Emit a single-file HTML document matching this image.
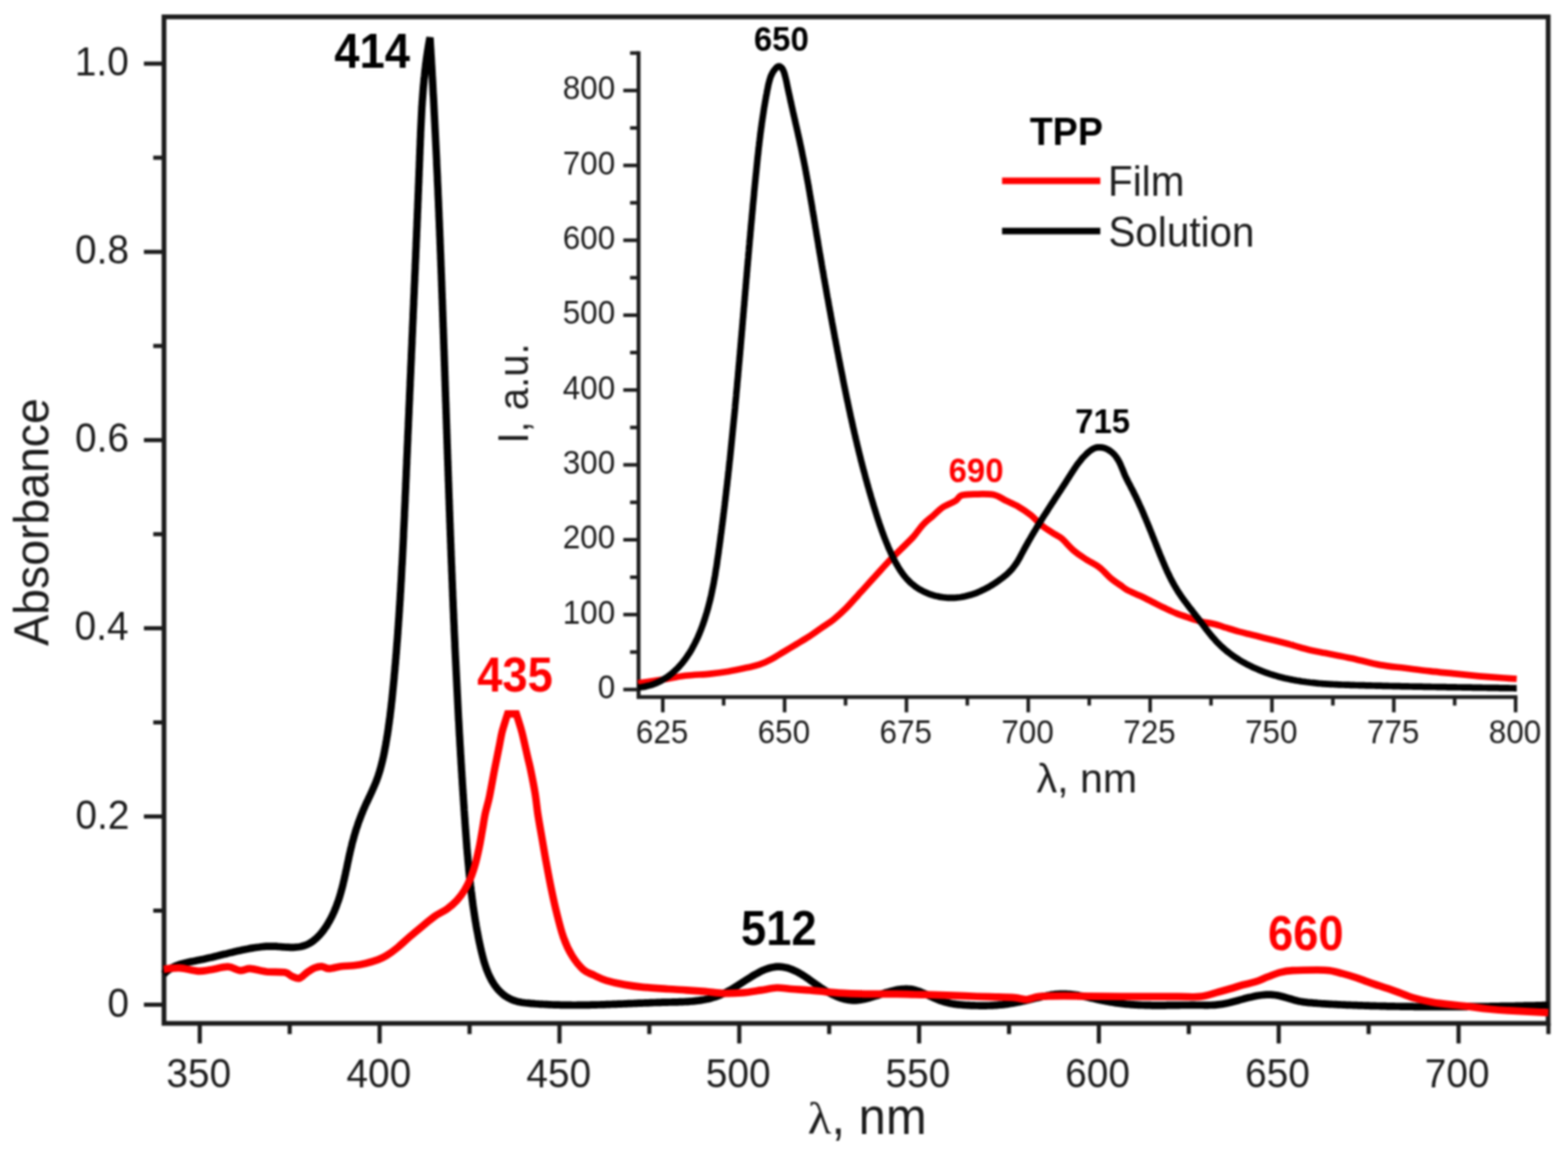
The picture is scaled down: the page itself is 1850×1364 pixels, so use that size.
<!DOCTYPE html>
<html lang="en"><head><meta charset="utf-8"><title>TPP absorbance and emission spectra</title>
<style>
html,body{margin:0;padding:0;background:#fff;}
body{width:1850px;height:1364px;overflow:hidden;}
svg{display:block;filter:blur(0.8px);}
text{font-family:"Liberation Sans",sans-serif;}
.b{font-weight:bold;}
.t{fill:#1c1c1c;}
.r{fill:#ff0000;}
.k{fill:#000000;}
.sym{font-family:"Liberation Serif",serif;}
</style></head><body>
<svg xmlns="http://www.w3.org/2000/svg" width="1850" height="1364" viewBox="0 0 1850 1364">
<rect x="0" y="0" width="1850" height="1364" fill="#fff"/>
<g stroke="#1c1c1c" stroke-width="5.6" fill="none" stroke-linecap="butt">
<rect x="193.5" y="19.9" width="1633.1" height="1187.6"/>
<g stroke-width="4.9">
<line x1="169.8" y1="1185.5" x2="193.5" y2="1185.5"/>
<line x1="180.8" y1="1074.5" x2="193.5" y2="1074.5"/>
<line x1="169.8" y1="963.4" x2="193.5" y2="963.4"/>
<line x1="180.8" y1="852.4" x2="193.5" y2="852.4"/>
<line x1="169.8" y1="741.3" x2="193.5" y2="741.3"/>
<line x1="180.8" y1="630.3" x2="193.5" y2="630.3"/>
<line x1="169.8" y1="519.3" x2="193.5" y2="519.3"/>
<line x1="180.8" y1="408.2" x2="193.5" y2="408.2"/>
<line x1="169.8" y1="297.2" x2="193.5" y2="297.2"/>
<line x1="180.8" y1="186.1" x2="193.5" y2="186.1"/>
<line x1="169.8" y1="75.1" x2="193.5" y2="75.1"/>
<line x1="235.7" y1="1207.5" x2="235.7" y2="1231.2"/>
<line x1="341.8" y1="1207.5" x2="341.8" y2="1220.2"/>
<line x1="447.9" y1="1207.5" x2="447.9" y2="1231.2"/>
<line x1="554.0" y1="1207.5" x2="554.0" y2="1220.2"/>
<line x1="660.1" y1="1207.5" x2="660.1" y2="1231.2"/>
<line x1="766.1" y1="1207.5" x2="766.1" y2="1220.2"/>
<line x1="872.2" y1="1207.5" x2="872.2" y2="1231.2"/>
<line x1="978.3" y1="1207.5" x2="978.3" y2="1220.2"/>
<line x1="1084.4" y1="1207.5" x2="1084.4" y2="1231.2"/>
<line x1="1190.5" y1="1207.5" x2="1190.5" y2="1220.2"/>
<line x1="1296.5" y1="1207.5" x2="1296.5" y2="1231.2"/>
<line x1="1402.6" y1="1207.5" x2="1402.6" y2="1220.2"/>
<line x1="1508.7" y1="1207.5" x2="1508.7" y2="1231.2"/>
<line x1="1614.8" y1="1207.5" x2="1614.8" y2="1220.2"/>
<line x1="1720.9" y1="1207.5" x2="1720.9" y2="1231.2"/>
<line x1="1826.9" y1="1207.5" x2="1826.9" y2="1220.2"/>
</g></g>
<text class="t" font-size="48" transform="matrix(0.9550 0 0 1.0000 88.23 89.20)">1.0</text>
<text class="t" font-size="48" transform="matrix(0.9550 0 0 1.0000 88.46 311.28)">0.8</text>
<text class="t" font-size="48" transform="matrix(0.9550 0 0 1.0000 88.46 533.36)">0.6</text>
<text class="t" font-size="48" transform="matrix(0.9550 0 0 1.0000 87.99 755.44)">0.4</text>
<text class="t" font-size="48" transform="matrix(0.9550 0 0 1.0000 88.94 977.52)">0.2</text>
<text class="t" font-size="48" transform="matrix(0.9550 0 0 1.0000 126.66 1199.60)">0</text>
<text class="t" font-size="48" transform="matrix(0.9550 0 0 1.0000 196.33 1282.70)">350</text>
<text class="t" font-size="48" transform="matrix(0.9550 0 0 1.0000 408.85 1282.70)">400</text>
<text class="t" font-size="48" transform="matrix(0.9550 0 0 1.0000 621.01 1282.70)">450</text>
<text class="t" font-size="48" transform="matrix(0.9550 0 0 1.0000 832.69 1282.70)">500</text>
<text class="t" font-size="48" transform="matrix(0.9550 0 0 1.0000 1044.85 1282.70)">550</text>
<text class="t" font-size="48" transform="matrix(0.9550 0 0 1.0000 1256.77 1282.70)">600</text>
<text class="t" font-size="48" transform="matrix(0.9550 0 0 1.0000 1468.93 1282.70)">650</text>
<text class="t" font-size="48" transform="matrix(0.9550 0 0 1.0000 1681.09 1282.70)">700</text>
<text class="t" font-size="57" transform="matrix(1.0058 0 0 0.9125 952.99 1337.30)"><tspan class="sym">λ</tspan></text>
<text class="t" font-size="60.5" transform="matrix(0.9550 0 0 1.0000 980.96 1337.67)">, nm</text>
<text class="t" font-size="57" transform="matrix(0 -0.9605 1.0204 0 57.09 761.94)">Absorbance</text>
<g stroke="#1c1c1c" stroke-width="4.6" fill="none" stroke-linecap="butt">
<path d="M753.4 60.5 V822.5 H1790.3"/>
<g stroke-width="4.2">
<line x1="735.4" y1="813.6" x2="753.4" y2="813.6"/>
<line x1="743.4" y1="769.4" x2="753.4" y2="769.4"/>
<line x1="735.4" y1="725.2" x2="753.4" y2="725.2"/>
<line x1="743.4" y1="681.1" x2="753.4" y2="681.1"/>
<line x1="735.4" y1="636.9" x2="753.4" y2="636.9"/>
<line x1="743.4" y1="592.7" x2="753.4" y2="592.7"/>
<line x1="735.4" y1="548.5" x2="753.4" y2="548.5"/>
<line x1="743.4" y1="504.4" x2="753.4" y2="504.4"/>
<line x1="735.4" y1="460.2" x2="753.4" y2="460.2"/>
<line x1="743.4" y1="416.0" x2="753.4" y2="416.0"/>
<line x1="735.4" y1="371.9" x2="753.4" y2="371.9"/>
<line x1="743.4" y1="327.7" x2="753.4" y2="327.7"/>
<line x1="735.4" y1="283.5" x2="753.4" y2="283.5"/>
<line x1="743.4" y1="239.3" x2="753.4" y2="239.3"/>
<line x1="735.4" y1="195.2" x2="753.4" y2="195.2"/>
<line x1="743.4" y1="151.0" x2="753.4" y2="151.0"/>
<line x1="735.4" y1="106.8" x2="753.4" y2="106.8"/>
<line x1="743.4" y1="62.6" x2="753.4" y2="62.6"/>
<line x1="782.0" y1="822.5" x2="782.0" y2="840.5"/>
<line x1="853.8" y1="822.5" x2="853.8" y2="832.5"/>
<line x1="925.7" y1="822.5" x2="925.7" y2="840.5"/>
<line x1="997.6" y1="822.5" x2="997.6" y2="832.5"/>
<line x1="1069.5" y1="822.5" x2="1069.5" y2="840.5"/>
<line x1="1141.3" y1="822.5" x2="1141.3" y2="832.5"/>
<line x1="1213.2" y1="822.5" x2="1213.2" y2="840.5"/>
<line x1="1285.1" y1="822.5" x2="1285.1" y2="832.5"/>
<line x1="1357.0" y1="822.5" x2="1357.0" y2="840.5"/>
<line x1="1428.8" y1="822.5" x2="1428.8" y2="832.5"/>
<line x1="1500.7" y1="822.5" x2="1500.7" y2="840.5"/>
<line x1="1572.6" y1="822.5" x2="1572.6" y2="832.5"/>
<line x1="1644.5" y1="822.5" x2="1644.5" y2="840.5"/>
<line x1="1716.3" y1="822.5" x2="1716.3" y2="832.5"/>
<line x1="1788.2" y1="822.5" x2="1788.2" y2="840.5"/>
</g></g>
<text class="t" font-size="38" transform="matrix(0.9750 0 0 1.0000 663.95 117.26)">800</text>
<text class="t" font-size="38" transform="matrix(0.9750 0 0 1.0000 663.95 205.61)">700</text>
<text class="t" font-size="38" transform="matrix(0.9750 0 0 1.0000 663.95 293.96)">600</text>
<text class="t" font-size="38" transform="matrix(0.9750 0 0 1.0000 663.95 382.31)">500</text>
<text class="t" font-size="38" transform="matrix(0.9750 0 0 1.0000 663.95 470.66)">400</text>
<text class="t" font-size="38" transform="matrix(0.9750 0 0 1.0000 663.95 559.01)">300</text>
<text class="t" font-size="38" transform="matrix(0.9750 0 0 1.0000 663.95 647.36)">200</text>
<text class="t" font-size="38" transform="matrix(0.9750 0 0 1.0000 663.95 735.71)">100</text>
<text class="t" font-size="38" transform="matrix(0.9750 0 0 1.0000 705.14 824.06)">0</text>
<text class="t" font-size="38" transform="matrix(0.9750 0 0 1.0000 750.37 876.96)">625</text>
<text class="t" font-size="38" transform="matrix(0.9750 0 0 1.0000 894.00 876.96)">650</text>
<text class="t" font-size="38" transform="matrix(0.9750 0 0 1.0000 1037.87 876.96)">675</text>
<text class="t" font-size="38" transform="matrix(0.9750 0 0 1.0000 1181.50 876.96)">700</text>
<text class="t" font-size="38" transform="matrix(0.9750 0 0 1.0000 1325.37 876.96)">725</text>
<text class="t" font-size="38" transform="matrix(0.9750 0 0 1.0000 1469.00 876.96)">750</text>
<text class="t" font-size="38" transform="matrix(0.9750 0 0 1.0000 1612.87 876.96)">775</text>
<text class="t" font-size="38" transform="matrix(0.9750 0 0 1.0000 1756.62 876.96)">800</text>
<text class="t" font-size="48.5" transform="matrix(1.0000 0 0 1.0000 1223.10 934.77)">λ, nm</text>
<text class="t" font-size="48" transform="matrix(0 -0.9843 1.0462 0 622.82 523.33)">I, a.u.</text>
<g fill="none" stroke-linejoin="miter" stroke-linecap="butt">
<path stroke="#ff0000" stroke-width="7.7" d="M752.9 806.1C757.3 805.5 770.0 803.9 779.2 802.4C788.5 800.9 798.7 798.5 808.4 797.3C818.1 796.1 829.1 796.0 837.6 795.1C846.1 794.2 852.2 793.4 859.5 792.2C866.8 791.0 875.2 789.1 881.3 787.8C887.4 786.5 891.0 785.9 895.9 784.2C900.8 782.5 905.6 780.2 910.5 777.6C915.4 775.0 920.2 771.8 925.1 768.9C930.0 766.0 934.8 763.0 939.7 760.1C944.6 757.2 949.4 754.5 954.3 751.3C959.2 748.1 964.0 744.5 968.9 741.1C973.8 737.7 978.6 734.8 983.5 730.9C988.4 727.0 993.2 722.6 998.1 717.7C1003.0 712.9 1009.2 705.6 1012.7 701.8C1016.2 698.0 1015.7 698.6 1019.2 694.7C1022.7 690.8 1028.9 684.0 1033.8 678.6C1038.7 673.2 1043.5 667.7 1048.4 662.6C1053.3 657.5 1058.1 652.9 1063.0 648.0C1067.9 643.1 1073.2 638.3 1077.6 633.4C1082.0 628.5 1085.3 622.9 1089.2 618.8C1093.1 614.7 1097.0 612.0 1100.9 608.6C1104.8 605.2 1108.2 601.3 1112.6 598.4C1117.0 595.5 1123.5 593.4 1127.2 591.1C1130.9 588.8 1130.6 585.8 1134.5 584.5C1138.4 583.2 1144.2 583.2 1150.5 583.1C1156.8 583.0 1166.3 582.5 1172.4 583.8C1178.5 585.1 1182.1 588.5 1187.0 590.8C1191.9 593.1 1196.7 595.0 1201.6 597.8C1206.5 600.6 1211.3 603.9 1216.2 607.8C1221.1 611.7 1225.9 617.5 1230.8 621.3C1235.7 625.1 1241.7 628.4 1245.4 630.8C1249.1 633.2 1249.3 632.5 1253.0 635.7C1256.7 639.0 1262.7 646.2 1267.6 650.3C1272.5 654.4 1277.3 657.3 1282.2 660.5C1287.1 663.7 1291.9 665.5 1296.8 669.3C1301.7 673.0 1307.2 679.5 1311.4 683.0C1315.6 686.5 1318.9 688.3 1322.0 690.5C1325.1 692.7 1326.2 694.2 1330.0 696.2C1333.8 698.2 1339.7 700.5 1344.6 702.8C1349.5 705.1 1354.3 707.6 1359.2 710.0C1364.1 712.4 1368.9 715.0 1373.8 717.3C1378.7 719.6 1383.5 721.9 1388.4 723.9C1393.3 725.9 1398.1 727.4 1403.0 729.0C1407.9 730.6 1412.7 732.2 1417.6 733.4C1422.5 734.6 1427.3 735.1 1432.2 736.3C1437.1 737.5 1442.0 739.2 1446.8 740.7C1451.6 742.2 1456.4 743.8 1461.3 745.1C1466.2 746.4 1471.0 747.5 1475.9 748.7C1480.8 749.9 1485.6 751.2 1490.5 752.4C1495.4 753.6 1500.2 754.8 1505.1 756.0C1510.0 757.2 1514.8 758.4 1519.7 759.7C1524.6 761.0 1529.4 762.7 1534.3 764.0C1539.2 765.3 1544.0 766.6 1548.9 767.7C1553.8 768.8 1558.6 769.6 1563.5 770.6C1568.4 771.6 1572.0 772.3 1578.1 773.5C1584.2 774.7 1591.6 776.1 1600.0 778.0C1608.4 779.9 1618.8 782.9 1628.4 784.6C1638.0 786.3 1647.9 787.1 1657.6 788.3C1667.3 789.5 1677.1 790.8 1686.8 791.9C1696.5 793.0 1706.3 793.9 1716.0 794.9C1725.7 795.9 1735.4 796.9 1745.1 797.8C1754.8 798.6 1766.9 799.5 1774.3 800.0C1781.7 800.5 1787.0 800.8 1789.5 801.0"/>
<path stroke="#000000" stroke-width="7.7" d="M752.9 811.2L755.0 811.0L757.1 810.8L759.1 810.4L761.1 810.1L763.1 809.6L765.1 809.1L767.0 808.6L768.9 808.0L770.8 807.3L772.7 806.6L774.5 805.9L776.3 805.0L778.1 804.2L779.9 803.3L781.6 802.3L783.3 801.3L784.9 800.3L786.6 799.2L788.2 798.1L789.8 796.9L791.3 795.7L792.9 794.4L794.4 793.1L795.8 791.8L797.3 790.5L798.7 789.1L800.1 787.7L801.5 786.2L802.8 784.7L804.1 783.2L805.4 781.7L806.6 780.2L807.8 778.6L809.0 777.0L810.2 775.4L811.3 773.7L812.4 772.0L813.5 770.4L814.5 768.7L815.6 766.9L816.6 765.2L817.5 763.4L818.5 761.7L819.4 759.9L820.3 758.1L821.2 756.3L822.1 754.4L823.0 752.6L823.8 750.7L824.6 748.9L825.4 747.0L826.1 745.1L826.9 743.3L827.6 741.4L828.3 739.5L829.0 737.6L829.7 735.7L830.3 733.8L831.0 731.9L831.6 730.0L832.2 728.0L832.8 726.1L833.4 724.2L834.0 722.3L834.5 720.4L835.1 718.4L835.6 716.5L836.1 714.6L836.6 712.6L837.1 710.7L837.6 708.8L838.1 706.8L838.5 704.9L839.0 702.9L839.4 701.0L839.8 699.0L840.2 697.1L840.6 695.1L841.0 693.2L841.4 691.2L841.8 689.2L842.2 687.3L842.5 685.3L842.9 683.3L843.2 681.4L843.6 679.4L843.9 677.4L844.2 675.5L844.5 673.5L844.8 671.5L845.2 669.6L845.5 667.6L845.8 665.6L846.1 663.6L846.3 661.6L846.6 659.7L846.9 657.7L847.2 655.7L847.5 653.7L847.8 651.8L848.0 649.8L848.3 647.8L848.6 645.8L848.9 643.8L849.1 641.9L849.4 639.9L849.7 637.9L849.9 635.9L850.2 633.9L850.4 631.9L850.7 630.0L851.0 628.0L851.2 626.0L851.5 624.0L851.7 622.0L852.0 620.0L852.3 618.1L852.5 616.1L852.8 614.1L853.0 612.1L853.3 610.1L853.5 608.1L853.7 606.2L854.0 604.2L854.2 602.2L854.5 600.2L854.7 598.2L855.0 596.2L855.2 594.2L855.4 592.3L855.7 590.3L855.9 588.3L856.1 586.3L856.4 584.3L856.6 582.3L856.8 580.3L857.1 578.3L857.3 576.4L857.5 574.4L857.8 572.4L858.0 570.4L858.2 568.4L858.4 566.4L858.7 564.4L858.9 562.4L859.1 560.5L859.3 558.5L859.5 556.5L859.8 554.5L860.0 552.5L860.2 550.5L860.4 548.5L860.6 546.5L860.8 544.5L861.1 542.5L861.3 540.6L861.5 538.6L861.7 536.6L861.9 534.6L862.1 532.6L862.3 530.6L862.5 528.6L862.7 526.6L862.9 524.6L863.1 522.6L863.3 520.6L863.5 518.7L863.7 516.7L863.9 514.7L864.1 512.7L864.3 510.7L864.5 508.7L864.7 506.7L864.9 504.7L865.1 502.7L865.3 500.7L865.5 498.7L865.7 496.7L865.9 494.7L866.1 492.8L866.3 490.8L866.5 488.8L866.7 486.8L866.9 484.8L867.1 482.8L867.3 480.8L867.4 478.8L867.6 476.8L867.8 474.8L868.0 472.8L868.2 470.8L868.4 468.8L868.6 466.8L868.7 464.8L868.9 462.8L869.1 460.9L869.3 458.9L869.5 456.9L869.7 454.9L869.8 452.9L870.0 450.9L870.2 448.9L870.4 446.9L870.6 444.9L870.8 442.9L870.9 440.9L871.1 438.9L871.3 436.9L871.5 434.9L871.6 432.9L871.8 430.9L872.0 428.9L872.2 426.9L872.4 425.0L872.5 423.0L872.7 421.0L872.9 419.0L873.1 417.0L873.2 415.0L873.4 413.0L873.6 411.0L873.8 409.0L873.9 407.0L874.1 405.0L874.3 403.0L874.4 401.0L874.6 399.0L874.8 397.0L875.0 395.0L875.1 393.0L875.3 391.0L875.5 389.0L875.7 387.0L875.8 385.0L876.0 383.1L876.2 381.1L876.3 379.1L876.5 377.1L876.7 375.1L876.9 373.1L877.0 371.1L877.2 369.1L877.4 367.1L877.5 365.1L877.7 363.1L877.9 361.1L878.1 359.1L878.2 357.1L878.4 355.1L878.6 353.1L878.7 351.1L878.9 349.1L879.1 347.1L879.2 345.1L879.4 343.2L879.6 341.2L879.8 339.2L879.9 337.2L880.1 335.2L880.3 333.2L880.4 331.2L880.6 329.2L880.8 327.2L881.0 325.2L881.1 323.2L881.3 321.2L881.5 319.2L881.6 317.2L881.8 315.2L882.0 313.2L882.2 311.2L882.3 309.3L882.5 307.3L882.7 305.3L882.9 303.3L883.0 301.3L883.2 299.3L883.4 297.3L883.6 295.3L883.7 293.3L883.9 291.3L884.1 289.3L884.3 287.3L884.4 285.3L884.6 283.3L884.8 281.4L885.0 279.4L885.2 277.4L885.3 275.4L885.5 273.4L885.7 271.4L885.9 269.4L886.0 267.4L886.2 265.4L886.4 263.4L886.6 261.4L886.8 259.4L887.0 257.5L887.1 255.5L887.3 253.5L887.5 251.5L887.7 249.5L887.9 247.5L888.1 245.5L888.2 243.5L888.4 241.5L888.6 239.5L888.8 237.6L889.0 235.6L889.2 233.6L889.4 231.6L889.6 229.6L889.7 227.6L889.9 225.6L890.1 223.6L890.3 221.6L890.5 219.7L890.7 217.7L890.9 215.7L891.1 213.7L891.3 211.7L891.5 209.7L891.7 207.7L891.9 205.7L892.1 203.8L892.3 201.8L892.5 199.8L892.7 197.8L892.9 195.8L893.1 193.8L893.3 191.8L893.5 189.9L893.7 187.9L893.9 185.9L894.1 183.9L894.4 181.9L894.6 179.9L894.8 177.9L895.0 176.0L895.2 174.0L895.5 172.0L895.7 170.0L895.9 168.0L896.2 166.0L896.4 164.0L896.7 162.1L896.9 160.1L897.1 158.1L897.4 156.1L897.7 154.1L897.9 152.1L898.2 150.1L898.5 148.2L898.7 146.2L899.0 144.2L899.3 142.2L899.6 140.2L899.9 138.2L900.2 136.2L900.5 134.2L900.8 132.3L901.1 130.3L901.4 128.3L901.7 126.3L902.1 124.3L902.4 122.3L902.8 120.3L903.1 118.3L903.5 116.3L903.8 114.3L904.2 112.4L904.6 110.4L904.9 108.4L905.3 106.4L905.7 104.4L906.1 102.4L906.5 100.4L907.0 98.4L907.5 96.5L908.0 94.5L908.6 92.6L909.2 90.7L910.0 88.9L910.8 87.1L911.7 85.4L912.8 83.7L914.0 82.1L915.3 80.6L916.7 79.2L918.3 78.4L919.9 78.4L921.4 79.3L922.8 80.7L923.8 82.5L924.7 84.5L925.5 86.7L926.1 89.0L926.7 91.2L927.2 93.3L927.7 95.3L928.1 97.3L928.5 99.3L928.9 101.2L929.3 103.1L929.7 105.0L930.1 106.9L930.5 108.8L930.9 110.7L931.4 112.6L931.8 114.5L932.2 116.5L932.6 118.4L933.0 120.3L933.5 122.2L933.9 124.2L934.3 126.1L934.8 128.0L935.2 130.0L935.6 131.9L936.1 133.9L936.5 135.8L937.0 137.8L937.4 139.7L937.9 141.7L938.3 143.6L938.7 145.6L939.2 147.5L939.6 149.5L940.1 151.4L940.5 153.4L941.0 155.4L941.4 157.3L941.8 159.3L942.3 161.2L942.7 163.2L943.2 165.2L943.6 167.1L944.0 169.1L944.4 171.1L944.9 173.0L945.3 175.0L945.7 177.0L946.1 178.9L946.5 180.9L946.9 182.9L947.3 184.9L947.7 186.8L948.1 188.8L948.5 190.8L948.9 192.7L949.3 194.7L949.7 196.7L950.0 198.6L950.4 200.6L950.8 202.6L951.1 204.5L951.5 206.5L951.9 208.5L952.2 210.5L952.6 212.4L953.0 214.4L953.3 216.4L953.7 218.3L954.0 220.3L954.4 222.3L954.7 224.2L955.1 226.2L955.4 228.2L955.7 230.2L956.1 232.1L956.4 234.1L956.7 236.1L957.1 238.0L957.4 240.0L957.8 242.0L958.1 243.9L958.4 245.9L958.7 247.9L959.1 249.9L959.4 251.8L959.7 253.8L960.1 255.8L960.4 257.7L960.7 259.7L961.0 261.7L961.4 263.7L961.7 265.6L962.0 267.6L962.3 269.6L962.7 271.5L963.0 273.5L963.3 275.5L963.6 277.5L964.0 279.4L964.3 281.4L964.6 283.4L965.0 285.3L965.3 287.3L965.6 289.3L965.9 291.3L966.3 293.2L966.6 295.2L966.9 297.2L967.3 299.1L967.6 301.1L968.0 303.1L968.3 305.1L968.6 307.0L969.0 309.0L969.3 311.0L969.6 312.9L970.0 314.9L970.3 316.9L970.7 318.9L971.0 320.8L971.4 322.8L971.7 324.8L972.0 326.7L972.4 328.7L972.7 330.7L973.1 332.7L973.4 334.6L973.8 336.6L974.1 338.6L974.5 340.5L974.8 342.5L975.2 344.5L975.5 346.5L975.9 348.4L976.2 350.4L976.6 352.4L977.0 354.3L977.3 356.3L977.7 358.3L978.0 360.2L978.4 362.2L978.7 364.2L979.1 366.2L979.5 368.1L979.8 370.1L980.2 372.1L980.5 374.0L980.9 376.0L981.3 378.0L981.6 379.9L982.0 381.9L982.4 383.9L982.7 385.8L983.1 387.8L983.5 389.8L983.8 391.8L984.2 393.7L984.6 395.7L984.9 397.7L985.3 399.6L985.7 401.6L986.1 403.6L986.4 405.5L986.8 407.5L987.2 409.5L987.6 411.4L987.9 413.4L988.3 415.4L988.7 417.3L989.1 419.3L989.4 421.3L989.8 423.2L990.2 425.2L990.6 427.2L991.0 429.1L991.3 431.1L991.7 433.1L992.1 435.0L992.5 437.0L992.9 439.0L993.3 440.9L993.7 442.9L994.1 444.8L994.4 446.8L994.8 448.8L995.2 450.7L995.6 452.7L996.0 454.7L996.4 456.6L996.8 458.6L997.2 460.5L997.6 462.5L998.0 464.5L998.4 466.4L998.8 468.4L999.2 470.3L999.6 472.3L1000.1 474.3L1000.5 476.2L1000.9 478.2L1001.3 480.1L1001.7 482.1L1002.1 484.0L1002.6 486.0L1003.0 488.0L1003.4 489.9L1003.8 491.9L1004.3 493.8L1004.7 495.8L1005.1 497.7L1005.6 499.7L1006.0 501.6L1006.4 503.6L1006.9 505.5L1007.3 507.5L1007.8 509.4L1008.2 511.4L1008.7 513.3L1009.1 515.3L1009.6 517.2L1010.0 519.2L1010.5 521.1L1011.0 523.1L1011.4 525.0L1011.9 526.9L1012.4 528.9L1012.8 530.8L1013.3 532.8L1013.8 534.7L1014.3 536.7L1014.8 538.6L1015.2 540.5L1015.7 542.5L1016.2 544.4L1016.7 546.3L1017.2 548.3L1017.7 550.2L1018.2 552.1L1018.7 554.1L1019.2 556.0L1019.8 557.9L1020.3 559.9L1020.8 561.8L1021.3 563.7L1021.8 565.7L1022.4 567.6L1022.9 569.5L1023.4 571.4L1024.0 573.4L1024.5 575.3L1025.1 577.2L1025.6 579.1L1026.2 581.1L1026.7 583.0L1027.3 584.9L1027.8 586.8L1028.4 588.7L1029.0 590.7L1029.6 592.6L1030.1 594.5L1030.7 596.4L1031.3 598.3L1031.9 600.2L1032.5 602.1L1033.1 604.0L1033.7 606.0L1034.3 607.9L1034.9 609.8L1035.5 611.7L1036.1 613.6L1036.8 615.5L1037.4 617.4L1038.0 619.3L1038.7 621.2L1039.4 623.1L1040.0 624.9L1040.7 626.8L1041.4 628.7L1042.1 630.6L1042.8 632.5L1043.5 634.3L1044.2 636.2L1045.0 638.1L1045.7 639.9L1046.5 641.8L1047.3 643.7L1048.0 645.5L1048.8 647.4L1049.7 649.2L1050.5 651.0L1051.3 652.9L1052.2 654.7L1053.1 656.5L1053.9 658.3L1054.9 660.2L1055.8 662.0L1056.7 663.7L1057.7 665.5L1058.7 667.2L1059.7 669.0L1060.8 670.7L1061.8 672.4L1062.9 674.0L1064.1 675.7L1065.2 677.3L1066.4 678.9L1067.7 680.4L1068.9 681.9L1070.2 683.4L1071.6 684.8L1073.0 686.2L1074.4 687.6L1075.9 688.9L1077.4 690.1L1078.9 691.3L1080.5 692.5L1082.2 693.6L1083.8 694.7L1085.5 695.7L1087.3 696.7L1089.1 697.6L1090.9 698.5L1092.7 699.3L1094.6 700.1L1096.5 700.8L1098.4 701.5L1100.3 702.1L1102.3 702.7L1104.3 703.2L1106.2 703.6L1108.2 704.1L1110.2 704.4L1112.2 704.7L1114.2 705.0L1116.3 705.2L1118.3 705.3L1120.3 705.4L1122.3 705.4L1124.3 705.4L1126.3 705.3L1128.3 705.2L1130.3 705.0L1132.2 704.8L1134.2 704.5L1136.1 704.1L1138.1 703.8L1140.0 703.3L1141.9 702.8L1143.8 702.3L1145.7 701.8L1147.6 701.1L1149.5 700.5L1151.4 699.8L1153.2 699.1L1155.1 698.3L1156.9 697.5L1158.7 696.6L1160.5 695.8L1162.3 694.9L1164.1 693.9L1165.9 693.0L1167.6 692.0L1169.4 690.9L1171.1 689.9L1172.8 688.8L1174.5 687.7L1176.2 686.5L1177.9 685.4L1179.5 684.2L1181.2 683.0L1182.8 681.8L1184.4 680.5L1185.9 679.3L1187.5 678.0L1189.0 676.6L1190.4 675.2L1191.8 673.8L1193.2 672.4L1194.5 670.9L1195.7 669.3L1196.9 667.7L1198.1 666.1L1199.2 664.5L1200.3 662.8L1201.3 661.1L1202.3 659.3L1203.3 657.6L1204.2 655.8L1205.2 654.0L1206.1 652.3L1207.1 650.5L1208.0 648.7L1209.0 647.0L1209.9 645.2L1210.9 643.5L1211.9 641.8L1212.8 640.0L1213.8 638.3L1214.8 636.6L1215.8 634.9L1216.8 633.1L1217.8 631.4L1218.8 629.7L1219.8 628.0L1220.9 626.3L1221.9 624.6L1222.9 622.9L1224.0 621.1L1225.0 619.4L1226.1 617.7L1227.1 616.0L1228.2 614.3L1229.3 612.6L1230.3 610.9L1231.4 609.2L1232.5 607.5L1233.6 605.8L1234.7 604.1L1235.8 602.4L1236.8 600.7L1237.9 599.0L1239.0 597.3L1240.1 595.6L1241.2 593.9L1242.3 592.3L1243.4 590.6L1244.5 588.9L1245.6 587.2L1246.7 585.5L1247.8 583.8L1248.9 582.2L1250.0 580.5L1251.1 578.8L1252.2 577.1L1253.2 575.5L1254.3 573.8L1255.4 572.1L1256.5 570.5L1257.6 568.8L1258.6 567.1L1259.7 565.5L1260.7 563.8L1261.8 562.1L1262.8 560.5L1263.9 558.8L1264.9 557.2L1266.0 555.6L1267.1 553.9L1268.2 552.3L1269.3 550.7L1270.4 549.0L1271.6 547.4L1272.8 545.8L1274.0 544.3L1275.3 542.7L1276.6 541.1L1277.9 539.6L1279.4 538.1L1280.9 536.6L1282.4 535.1L1284.0 533.6L1285.7 532.2L1287.4 531.0L1289.2 529.9L1291.0 529.0L1292.9 528.3L1294.8 527.9L1296.7 527.8L1298.6 527.8L1300.5 528.1L1302.4 528.5L1304.3 529.1L1306.1 529.9L1307.9 530.9L1309.6 532.0L1311.3 533.2L1312.8 534.5L1314.2 535.9L1315.6 537.4L1316.8 538.9L1317.9 540.6L1319.0 542.3L1320.0 544.0L1320.9 545.8L1321.8 547.7L1322.6 549.5L1323.4 551.4L1324.2 553.3L1325.0 555.2L1325.7 557.1L1326.5 559.0L1327.3 560.9L1328.1 562.7L1329.0 564.5L1329.9 566.3L1330.8 568.1L1331.7 569.9L1332.7 571.6L1333.6 573.4L1334.5 575.2L1335.4 576.9L1336.4 578.7L1337.3 580.5L1338.1 582.2L1339.0 584.0L1339.9 585.8L1340.8 587.6L1341.6 589.4L1342.5 591.2L1343.3 593.0L1344.1 594.8L1344.9 596.6L1345.8 598.4L1346.6 600.2L1347.4 602.1L1348.2 603.9L1349.0 605.7L1349.7 607.6L1350.5 609.4L1351.3 611.2L1352.1 613.1L1352.8 614.9L1353.6 616.8L1354.4 618.6L1355.1 620.5L1355.9 622.3L1356.6 624.2L1357.4 626.0L1358.1 627.9L1358.9 629.8L1359.6 631.6L1360.3 633.5L1361.1 635.3L1361.8 637.2L1362.6 639.1L1363.3 640.9L1364.0 642.8L1364.8 644.7L1365.5 646.5L1366.3 648.4L1367.0 650.3L1367.8 652.2L1368.5 654.0L1369.3 655.9L1370.1 657.8L1370.8 659.6L1371.6 661.5L1372.4 663.3L1373.2 665.2L1374.0 667.0L1374.8 668.9L1375.6 670.7L1376.4 672.5L1377.2 674.4L1378.1 676.2L1379.0 678.0L1379.8 679.8L1380.7 681.6L1381.6 683.4L1382.5 685.1L1383.5 686.9L1384.4 688.6L1385.4 690.4L1386.4 692.1L1387.4 693.8L1388.4 695.5L1389.5 697.2L1390.5 698.9L1391.6 700.5L1392.7 702.2L1393.8 703.8L1395.0 705.4L1396.1 707.0L1397.3 708.6L1398.5 710.2L1399.7 711.8L1400.9 713.4L1402.1 715.0L1403.3 716.6L1404.5 718.1L1405.8 719.7L1407.0 721.3L1408.2 722.9L1409.5 724.5L1410.7 726.0L1411.9 727.6L1413.2 729.2L1414.4 730.8L1415.6 732.5L1416.8 734.1L1418.0 735.7L1419.3 737.3L1420.5 738.9L1421.7 740.5L1422.9 742.2L1424.2 743.8L1425.4 745.4L1426.7 746.9L1428.0 748.5L1429.2 750.1L1430.5 751.6L1431.9 753.1L1433.2 754.6L1434.5 756.1L1435.9 757.6L1437.3 759.0L1438.7 760.4L1440.1 761.8L1441.6 763.2L1443.1 764.5L1444.6 765.8L1446.1 767.1L1447.6 768.4L1449.2 769.6L1450.7 770.8L1452.3 772.0L1453.9 773.2L1455.5 774.3L1457.2 775.4L1458.8 776.5L1460.5 777.6L1462.2 778.7L1463.9 779.7L1465.6 780.7L1467.3 781.7L1469.1 782.7L1470.8 783.6L1472.6 784.5L1474.4 785.4L1476.2 786.3L1478.0 787.2L1479.8 788.0L1481.6 788.8L1483.4 789.6L1485.3 790.4L1487.1 791.1L1489.0 791.9L1490.9 792.6L1492.8 793.3L1494.7 794.0L1496.6 794.6L1498.5 795.3L1500.4 795.9L1502.3 796.5L1504.2 797.1L1506.2 797.6L1508.1 798.2L1510.0 798.7L1512.0 799.2L1513.9 799.7L1515.9 800.2L1517.9 800.6L1519.8 801.1L1521.8 801.5L1523.8 801.9L1525.7 802.3L1527.7 802.6L1529.7 803.0L1531.6 803.3L1533.6 803.6L1535.6 804.0L1537.6 804.2L1539.6 804.5L1541.5 804.8L1543.5 805.0L1545.5 805.3L1547.5 805.5L1549.5 805.7L1551.5 805.9L1553.5 806.1L1555.4 806.3L1557.4 806.5L1559.4 806.6L1561.4 806.8L1563.4 806.9L1565.4 807.1L1567.4 807.2L1569.4 807.3L1571.4 807.4L1573.4 807.5L1575.4 807.6L1577.4 807.7L1579.4 807.8L1581.4 807.9L1583.4 808.0L1585.4 808.0L1587.4 808.1L1589.4 808.2L1591.4 808.2L1593.4 808.3L1595.4 808.4L1597.4 808.4L1599.4 808.5L1601.4 808.5L1603.4 808.6L1605.4 808.6L1607.4 808.7L1609.4 808.7L1611.4 808.8L1613.4 808.8L1615.4 808.9L1617.4 808.9L1619.4 809.0L1621.4 809.0L1623.4 809.1L1625.4 809.1L1627.4 809.2L1629.4 809.2L1631.4 809.3L1633.4 809.3L1635.4 809.4L1637.4 809.4L1639.4 809.5L1641.4 809.5L1643.4 809.6L1645.4 809.6L1647.4 809.6L1649.4 809.7L1651.4 809.7L1653.4 809.8L1655.4 809.8L1657.4 809.9L1659.4 809.9L1661.4 809.9L1663.4 810.0L1665.4 810.0L1667.4 810.1L1669.4 810.1L1671.4 810.1L1673.4 810.2L1675.4 810.2L1677.4 810.2L1679.4 810.3L1681.4 810.3L1683.4 810.4L1685.4 810.4L1687.4 810.4L1689.4 810.5L1691.4 810.5L1693.4 810.5L1695.4 810.6L1697.4 810.6L1699.4 810.6L1701.4 810.7L1703.5 810.7L1705.5 810.7L1707.5 810.8L1709.5 810.8L1711.5 810.8L1713.5 810.9L1715.5 810.9L1717.5 810.9L1719.5 811.0L1721.5 811.0L1723.5 811.0L1725.5 811.1L1727.5 811.1L1729.5 811.1L1731.5 811.2L1733.5 811.2L1735.5 811.2L1737.5 811.3L1739.5 811.3L1741.5 811.3L1743.5 811.4L1745.5 811.4L1747.5 811.4L1749.5 811.5L1751.5 811.5L1753.5 811.5L1755.5 811.6L1757.5 811.6L1759.5 811.6L1761.5 811.7L1763.5 811.7L1765.5 811.7L1767.5 811.7L1769.5 811.8L1771.5 811.8L1773.5 811.8L1775.5 811.9L1777.5 811.9L1779.5 811.9L1781.5 812.0L1783.5 812.0L1785.5 812.0L1787.5 812.1L1789.5 812.1"/>
<path stroke="#000000" stroke-width="8.7" stroke-linejoin="miter" d="M193.3 1149.3L194.8 1147.8L196.4 1146.4L198.1 1145.1L199.7 1143.9L201.4 1142.9L203.1 1141.9L204.9 1140.9L206.7 1140.1L208.5 1139.3L210.3 1138.6L212.2 1138.0L214.0 1137.4L215.9 1136.9L217.8 1136.4L219.8 1135.9L221.7 1135.4L223.7 1135.0L225.6 1134.6L227.6 1134.3L229.5 1133.9L231.5 1133.5L233.5 1133.1L235.4 1132.7L237.4 1132.3L239.4 1131.9L241.3 1131.5L243.3 1131.0L245.3 1130.6L247.2 1130.1L249.2 1129.7L251.2 1129.2L253.1 1128.7L255.1 1128.2L257.0 1127.8L259.0 1127.3L260.9 1126.8L262.9 1126.3L264.9 1125.8L266.8 1125.4L268.8 1124.9L270.7 1124.4L272.7 1123.9L274.6 1123.5L276.6 1123.0L278.5 1122.6L280.5 1122.1L282.4 1121.7L284.4 1121.3L286.3 1120.8L288.3 1120.4L290.2 1120.0L292.2 1119.7L294.1 1119.3L296.1 1118.9L298.0 1118.6L300.0 1118.3L301.9 1118.0L303.9 1117.7L305.9 1117.5L307.8 1117.2L309.8 1117.0L311.8 1116.8L313.7 1116.7L315.7 1116.6L317.7 1116.6L319.7 1116.5L321.7 1116.6L323.8 1116.6L325.8 1116.7L327.8 1116.9L329.9 1117.0L331.9 1117.2L334.0 1117.3L336.1 1117.5L338.1 1117.6L340.2 1117.7L342.2 1117.8L344.3 1117.8L346.3 1117.8L348.4 1117.7L350.4 1117.5L352.4 1117.3L354.4 1117.0L356.3 1116.6L358.2 1116.0L360.0 1115.4L361.8 1114.7L363.6 1113.9L365.3 1113.0L366.9 1112.0L368.5 1110.9L370.1 1109.7L371.6 1108.5L373.1 1107.2L374.5 1105.9L375.9 1104.4L377.3 1103.0L378.6 1101.5L379.9 1099.9L381.2 1098.3L382.4 1096.7L383.5 1095.0L384.7 1093.4L385.8 1091.7L386.8 1089.9L387.8 1088.2L388.8 1086.5L389.8 1084.7L390.7 1083.0L391.6 1081.2L392.5 1079.4L393.3 1077.6L394.2 1075.8L394.9 1073.9L395.7 1072.1L396.4 1070.3L397.1 1068.4L397.8 1066.5L398.5 1064.6L399.2 1062.8L399.8 1060.9L400.4 1059.0L401.0 1057.1L401.5 1055.1L402.1 1053.2L402.6 1051.3L403.2 1049.3L403.7 1047.4L404.2 1045.4L404.7 1043.5L405.1 1041.5L405.6 1039.6L406.1 1037.6L406.5 1035.6L406.9 1033.7L407.4 1031.7L407.8 1029.7L408.2 1027.7L408.7 1025.8L409.1 1023.8L409.5 1021.8L409.9 1019.8L410.3 1017.9L410.8 1015.9L411.2 1013.9L411.6 1011.9L412.0 1010.0L412.5 1008.0L412.9 1006.0L413.4 1004.1L413.8 1002.1L414.3 1000.2L414.8 998.2L415.2 996.3L415.7 994.3L416.3 992.4L416.8 990.5L417.3 988.6L417.8 986.6L418.4 984.7L419.0 982.8L419.6 980.9L420.1 979.0L420.7 977.1L421.4 975.2L422.0 973.4L422.6 971.5L423.3 969.6L424.0 967.7L424.7 965.9L425.4 964.0L426.1 962.2L426.8 960.3L427.6 958.5L428.3 956.6L429.1 954.8L429.9 953.0L430.7 951.1L431.5 949.3L432.4 947.5L433.2 945.7L434.1 943.9L434.9 942.0L435.8 940.2L436.7 938.4L437.5 936.6L438.4 934.8L439.2 932.9L440.0 931.1L440.8 929.3L441.6 927.4L442.4 925.6L443.2 923.7L443.9 921.9L444.6 920.0L445.3 918.1L446.0 916.2L446.6 914.3L447.2 912.4L447.8 910.5L448.4 908.6L448.9 906.7L449.4 904.7L449.9 902.8L450.4 900.9L450.9 898.9L451.4 897.0L451.8 895.0L452.3 893.0L452.7 891.1L453.1 889.1L453.5 887.2L453.9 885.2L454.2 883.2L454.6 881.2L455.0 879.3L455.3 877.3L455.6 875.3L456.0 873.3L456.3 871.4L456.6 869.4L457.0 867.4L457.3 865.4L457.6 863.4L457.9 861.5L458.2 859.5L458.4 857.5L458.7 855.5L459.0 853.5L459.3 851.5L459.5 849.6L459.8 847.6L460.1 845.6L460.3 843.6L460.5 841.6L460.8 839.6L461.0 837.6L461.3 835.6L461.5 833.7L461.7 831.7L461.9 829.7L462.2 827.7L462.4 825.7L462.6 823.7L462.8 821.7L463.0 819.7L463.2 817.7L463.4 815.7L463.6 813.8L463.8 811.8L464.0 809.8L464.2 807.8L464.4 805.8L464.6 803.8L464.8 801.8L465.0 799.8L465.1 797.8L465.3 795.8L465.5 793.8L465.7 791.8L465.9 789.8L466.0 787.8L466.2 785.8L466.4 783.9L466.6 781.9L466.7 779.9L466.9 777.9L467.1 775.9L467.2 773.9L467.4 771.9L467.6 769.9L467.7 767.9L467.9 765.9L468.0 763.9L468.2 761.9L468.3 759.9L468.5 757.9L468.7 755.9L468.8 753.9L469.0 751.9L469.1 749.9L469.3 747.9L469.4 745.9L469.5 743.9L469.7 741.9L469.8 739.9L470.0 737.9L470.1 735.9L470.2 734.0L470.4 732.0L470.5 730.0L470.7 728.0L470.8 726.0L470.9 724.0L471.1 722.0L471.2 720.0L471.3 718.0L471.4 716.0L471.6 714.0L471.7 712.0L471.8 710.0L472.0 708.0L472.1 706.0L472.2 704.0L472.3 702.0L472.4 700.0L472.6 698.0L472.7 696.0L472.8 694.0L472.9 692.0L473.0 690.0L473.1 688.0L473.3 686.0L473.4 684.0L473.5 682.0L473.6 680.0L473.7 678.0L473.8 676.0L473.9 674.0L474.0 672.0L474.1 670.0L474.2 668.0L474.4 666.0L474.5 664.0L474.6 662.0L474.7 660.0L474.8 658.0L474.9 656.0L475.0 654.0L475.1 652.0L475.2 650.0L475.3 648.0L475.4 646.0L475.5 644.0L475.6 642.0L475.7 640.0L475.8 638.0L475.9 636.0L476.0 634.0L476.1 632.0L476.1 630.0L476.2 628.0L476.3 626.0L476.4 624.0L476.5 622.0L476.6 620.0L476.7 618.0L476.8 616.0L476.9 614.0L477.0 612.0L477.1 610.0L477.2 608.0L477.2 606.0L477.3 604.0L477.4 602.0L477.5 600.0L477.6 598.0L477.7 596.0L477.8 593.9L477.9 591.9L478.0 589.9L478.0 587.9L478.1 585.9L478.2 583.9L478.3 581.9L478.4 579.9L478.5 577.9L478.6 575.9L478.7 573.9L478.7 571.9L478.8 569.9L478.9 567.9L479.0 565.9L479.1 563.9L479.2 561.9L479.3 559.9L479.3 557.9L479.4 555.9L479.5 553.9L479.6 551.9L479.7 549.9L479.8 547.9L479.9 545.9L479.9 543.9L480.0 541.9L480.1 539.9L480.2 537.9L480.3 535.9L480.4 533.9L480.5 531.9L480.5 529.9L480.6 527.9L480.7 525.9L480.8 523.9L480.9 521.9L481.0 519.9L481.1 517.9L481.1 515.9L481.2 513.9L481.3 511.9L481.4 509.9L481.5 507.9L481.6 505.9L481.7 503.9L481.8 501.9L481.8 499.9L481.9 497.9L482.0 495.9L482.1 493.9L482.2 491.9L482.3 489.9L482.4 487.9L482.5 485.9L482.5 483.9L482.6 481.9L482.7 479.9L482.8 477.9L482.9 475.9L483.0 473.9L483.1 471.9L483.2 469.9L483.2 467.9L483.3 465.9L483.4 463.9L483.5 461.9L483.6 459.9L483.7 457.9L483.8 455.9L483.9 453.9L483.9 451.9L484.0 449.9L484.1 447.9L484.2 445.9L484.3 443.9L484.4 441.9L484.5 439.9L484.6 437.9L484.6 435.9L484.7 433.9L484.8 431.9L484.9 429.9L485.0 427.9L485.1 425.9L485.2 423.9L485.3 421.9L485.3 419.9L485.4 417.9L485.5 415.9L485.6 413.9L485.7 411.9L485.8 409.9L485.9 407.9L486.0 405.9L486.1 403.9L486.1 401.9L486.2 399.9L486.3 397.9L486.4 395.9L486.5 393.9L486.6 391.9L486.7 389.9L486.7 387.9L486.8 385.9L486.9 383.9L487.0 381.9L487.1 379.9L487.2 377.9L487.3 375.9L487.4 373.8L487.4 371.8L487.5 369.8L487.6 367.8L487.7 365.8L487.8 363.8L487.9 361.8L488.0 359.8L488.1 357.8L488.1 355.8L488.2 353.8L488.3 351.8L488.4 349.8L488.5 347.8L488.6 345.8L488.7 343.8L488.7 341.8L488.8 339.8L488.9 337.8L489.0 335.8L489.1 333.8L489.2 331.8L489.3 329.8L489.3 327.8L489.4 325.8L489.5 323.8L489.6 321.8L489.7 319.8L489.8 317.8L489.9 315.8L489.9 313.8L490.0 311.8L490.1 309.8L490.2 307.8L490.3 305.8L490.4 303.8L490.5 301.8L490.5 299.8L490.6 297.8L490.7 295.8L490.8 293.8L490.9 291.8L491.0 289.8L491.0 287.8L491.1 285.8L491.2 283.8L491.3 281.8L491.4 279.8L491.5 277.8L491.5 275.8L491.6 273.8L491.7 271.8L491.8 269.8L491.9 267.8L492.0 265.8L492.0 263.8L492.1 261.8L492.2 259.8L492.3 257.8L492.4 255.8L492.4 253.8L492.5 251.8L492.6 249.8L492.7 247.8L492.8 245.8L492.9 243.8L492.9 241.8L493.0 239.8L493.1 237.8L493.2 235.8L493.3 233.8L493.3 231.8L493.4 229.8L493.5 227.8L493.6 225.8L493.7 223.8L493.7 221.8L493.8 219.8L493.9 217.8L494.0 215.8L494.1 213.8L494.1 211.8L494.2 209.8L494.3 207.8L494.4 205.8L494.4 203.8L494.5 201.8L494.6 199.8L494.7 197.8L494.8 195.8L494.8 193.8L494.9 191.8L495.0 189.7L495.1 187.7L495.1 185.7L495.2 183.7L495.3 181.7L495.4 179.7L495.4 177.7L495.5 175.7L495.6 173.7L495.7 171.7L495.8 169.7L495.8 167.7L495.9 165.7L496.0 163.7L496.1 161.7L496.2 159.7L496.2 157.7L496.3 155.7L496.4 153.7L496.5 151.7L496.6 149.7L496.7 147.7L496.8 145.7L496.9 143.7L497.0 141.7L497.1 139.7L497.2 137.7L497.3 135.7L497.4 133.7L497.5 131.7L497.6 129.7L497.7 127.7L497.8 125.7L498.0 123.7L498.1 121.7L498.2 119.7L498.4 117.7L498.5 115.7L498.7 113.7L498.8 111.7L499.0 109.7L499.1 107.7L499.3 105.7L499.4 103.8L499.6 101.8L499.8 99.8L500.0 97.8L500.2 95.8L500.3 93.8L500.5 91.8L500.8 89.8L501.0 87.8L501.2 85.8L501.4 83.8L501.6 81.9L501.9 79.9L502.1 77.9L502.3 75.9L502.6 73.9L502.9 71.9L503.1 69.9L503.4 68.0L503.7 66.0L504.0 64.0L504.3 62.0L504.6 60.0L504.9 58.0L505.2 56.1L505.5 54.1L505.9 52.1L506.2 50.1L506.6 48.2L506.9 46.2L507.3 44.2L507.4 46.2L507.5 48.2L507.7 50.2L507.8 52.2L507.9 54.2L508.0 56.2L508.2 58.2L508.3 60.2L508.4 62.2L508.5 64.2L508.6 66.2L508.8 68.2L508.9 70.2L509.0 72.2L509.1 74.2L509.2 76.2L509.3 78.2L509.5 80.2L509.6 82.2L509.7 84.2L509.8 86.1L509.9 88.1L510.0 90.1L510.1 92.1L510.3 94.1L510.4 96.1L510.5 98.1L510.6 100.1L510.7 102.1L510.8 104.1L510.9 106.1L511.0 108.1L511.1 110.1L511.2 112.1L511.4 114.1L511.5 116.1L511.6 118.1L511.7 120.1L511.8 122.1L511.9 124.1L512.0 126.1L512.1 128.1L512.2 130.1L512.3 132.1L512.4 134.1L512.5 136.1L512.6 138.1L512.7 140.1L512.8 142.1L512.9 144.1L513.0 146.1L513.1 148.1L513.2 150.1L513.3 152.1L513.4 154.1L513.5 156.1L513.6 158.1L513.7 160.1L513.8 162.1L513.9 164.1L514.0 166.1L514.1 168.1L514.2 170.1L514.3 172.1L514.4 174.1L514.5 176.1L514.6 178.1L514.7 180.1L514.8 182.1L514.9 184.1L515.0 186.1L515.1 188.1L515.2 190.1L515.2 192.1L515.3 194.1L515.4 196.1L515.5 198.1L515.6 200.0L515.7 202.0L515.8 204.0L515.9 206.0L516.0 208.0L516.1 210.0L516.1 212.0L516.2 214.0L516.3 216.0L516.4 218.0L516.5 220.0L516.6 222.0L516.7 224.0L516.8 226.0L516.8 228.0L516.9 230.0L517.0 232.0L517.1 234.0L517.2 236.0L517.3 238.0L517.4 240.0L517.4 242.0L517.5 244.0L517.6 246.0L517.7 248.0L517.8 250.0L517.9 252.0L517.9 254.0L518.0 256.0L518.1 258.0L518.2 260.0L518.3 262.0L518.4 264.0L518.4 266.0L518.5 268.0L518.6 270.0L518.7 272.0L518.8 274.0L518.8 276.0L518.9 278.0L519.0 280.0L519.1 282.0L519.2 284.0L519.2 286.0L519.3 288.0L519.4 290.0L519.5 292.0L519.5 294.0L519.6 296.0L519.7 298.0L519.8 300.0L519.9 302.0L519.9 304.0L520.0 306.0L520.1 308.0L520.2 310.0L520.2 312.0L520.3 314.0L520.4 316.0L520.5 318.0L520.5 320.0L520.6 322.0L520.7 324.0L520.8 326.0L520.8 328.0L520.9 330.0L521.0 332.0L521.1 334.0L521.1 336.0L521.2 338.0L521.3 340.0L521.3 342.0L521.4 344.0L521.5 346.0L521.6 348.0L521.6 350.0L521.7 352.0L521.8 354.0L521.9 356.0L521.9 358.0L522.0 360.0L522.1 362.0L522.1 364.0L522.2 366.0L522.3 368.0L522.4 370.0L522.4 372.0L522.5 374.0L522.6 376.0L522.6 378.0L522.7 380.0L522.8 382.0L522.8 384.0L522.9 386.0L523.0 388.0L523.1 390.0L523.1 392.0L523.2 394.0L523.3 396.0L523.3 398.0L523.4 400.0L523.5 402.0L523.5 404.0L523.6 406.0L523.7 408.0L523.7 410.0L523.8 412.0L523.9 414.0L524.0 416.0L524.0 418.0L524.1 420.0L524.2 422.0L524.2 424.0L524.3 426.0L524.4 428.0L524.4 430.0L524.5 432.0L524.6 434.0L524.6 436.0L524.7 438.0L524.8 440.0L524.8 442.0L524.9 444.0L525.0 446.0L525.0 448.0L525.1 450.0L525.2 452.0L525.2 454.0L525.3 456.0L525.4 458.0L525.4 460.0L525.5 462.0L525.6 464.0L525.6 466.0L525.7 468.0L525.8 470.0L525.8 472.0L525.9 474.0L526.0 476.0L526.1 478.0L526.1 480.0L526.2 482.0L526.3 484.0L526.3 486.0L526.4 488.0L526.5 490.0L526.5 492.0L526.6 494.0L526.7 496.0L526.7 498.0L526.8 500.0L526.9 502.0L526.9 504.0L527.0 506.0L527.1 507.9L527.1 509.9L527.2 511.9L527.3 513.9L527.3 515.9L527.4 517.9L527.5 519.9L527.5 521.9L527.6 523.9L527.7 525.9L527.7 527.9L527.8 529.9L527.9 531.9L527.9 533.9L528.0 535.9L528.1 537.9L528.1 539.9L528.2 541.9L528.3 543.9L528.4 545.9L528.4 547.9L528.5 549.9L528.6 551.9L528.6 553.9L528.7 555.9L528.8 557.9L528.8 559.9L528.9 561.9L529.0 563.9L529.0 565.9L529.1 567.9L529.2 569.9L529.3 571.9L529.3 573.9L529.4 575.9L529.5 577.9L529.5 579.9L529.6 581.9L529.7 583.9L529.7 585.9L529.8 587.9L529.9 589.9L530.0 591.9L530.0 593.9L530.1 595.9L530.2 597.9L530.2 599.9L530.3 601.9L530.4 603.9L530.5 605.9L530.5 607.9L530.6 609.9L530.7 611.9L530.7 613.9L530.8 615.9L530.9 617.9L531.0 619.9L531.0 621.9L531.1 623.9L531.2 625.9L531.3 627.9L531.3 629.9L531.4 631.9L531.5 633.9L531.6 635.9L531.6 637.9L531.7 639.9L531.8 641.9L531.9 643.9L531.9 645.9L532.0 647.9L532.1 649.9L532.2 651.9L532.2 653.9L532.3 655.9L532.4 657.9L532.5 659.9L532.5 661.9L532.6 663.9L532.7 665.9L532.8 667.9L532.9 669.9L532.9 671.9L533.0 673.9L533.1 675.9L533.2 677.9L533.3 679.9L533.3 681.9L533.4 683.9L533.5 685.9L533.6 687.9L533.7 689.9L533.7 691.9L533.8 693.9L533.9 695.9L534.0 697.9L534.1 699.9L534.1 701.9L534.2 703.9L534.3 705.9L534.4 707.9L534.5 709.9L534.6 711.9L534.6 713.9L534.7 715.9L534.8 717.9L534.9 719.9L535.0 721.9L535.1 723.9L535.2 725.9L535.2 727.9L535.3 729.9L535.4 731.9L535.5 733.9L535.6 735.9L535.7 737.9L535.8 739.9L535.8 741.9L535.9 743.9L536.0 745.9L536.1 747.9L536.2 749.9L536.3 751.9L536.4 753.9L536.5 755.9L536.6 757.9L536.7 759.9L536.7 761.9L536.8 763.9L536.9 765.9L537.0 767.9L537.1 769.9L537.2 771.9L537.3 773.9L537.4 775.8L537.5 777.8L537.6 779.8L537.7 781.8L537.8 783.8L537.9 785.8L538.0 787.8L538.1 789.8L538.2 791.8L538.3 793.8L538.4 795.8L538.5 797.8L538.6 799.8L538.7 801.8L538.8 803.8L538.9 805.8L539.0 807.8L539.1 809.8L539.2 811.8L539.3 813.8L539.4 815.8L539.5 817.8L539.6 819.8L539.7 821.8L539.8 823.8L539.9 825.8L540.0 827.8L540.1 829.8L540.2 831.8L540.3 833.8L540.4 835.8L540.5 837.8L540.6 839.8L540.7 841.8L540.8 843.8L540.9 845.8L541.0 847.8L541.1 849.8L541.3 851.8L541.4 853.8L541.5 855.8L541.6 857.8L541.7 859.8L541.8 861.8L541.9 863.8L542.0 865.8L542.1 867.8L542.3 869.8L542.4 871.8L542.5 873.8L542.6 875.8L542.7 877.8L542.8 879.8L543.0 881.8L543.1 883.7L543.2 885.7L543.3 887.7L543.4 889.7L543.5 891.7L543.7 893.7L543.8 895.7L543.9 897.7L544.0 899.7L544.1 901.7L544.3 903.7L544.4 905.7L544.5 907.7L544.6 909.7L544.8 911.7L544.9 913.7L545.0 915.7L545.1 917.7L545.3 919.7L545.4 921.7L545.5 923.7L545.6 925.7L545.8 927.7L545.9 929.7L546.0 931.7L546.2 933.7L546.3 935.7L546.4 937.7L546.6 939.7L546.7 941.7L546.8 943.7L547.0 945.7L547.1 947.7L547.2 949.7L547.4 951.7L547.5 953.7L547.6 955.6L547.8 957.6L547.9 959.6L548.0 961.6L548.2 963.6L548.3 965.6L548.5 967.6L548.6 969.6L548.7 971.6L548.9 973.6L549.0 975.6L549.2 977.6L549.3 979.6L549.5 981.6L549.6 983.6L549.8 985.6L549.9 987.6L550.1 989.6L550.2 991.6L550.4 993.6L550.5 995.6L550.7 997.6L550.8 999.6L551.0 1001.6L551.2 1003.5L551.3 1005.5L551.5 1007.5L551.7 1009.5L551.9 1011.5L552.0 1013.5L552.2 1015.5L552.4 1017.5L552.6 1019.5L552.8 1021.5L553.0 1023.5L553.1 1025.5L553.3 1027.5L553.5 1029.4L553.7 1031.4L553.9 1033.4L554.1 1035.4L554.4 1037.4L554.6 1039.4L554.8 1041.4L555.0 1043.4L555.2 1045.3L555.5 1047.3L555.7 1049.3L555.9 1051.3L556.2 1053.3L556.4 1055.3L556.7 1057.2L556.9 1059.2L557.2 1061.2L557.4 1063.2L557.7 1065.2L557.9 1067.1L558.2 1069.1L558.5 1071.1L558.8 1073.1L559.1 1075.1L559.4 1077.0L559.7 1079.0L560.0 1081.0L560.3 1083.0L560.6 1084.9L560.9 1086.9L561.3 1088.9L561.6 1090.9L561.9 1092.8L562.3 1094.8L562.6 1096.8L563.0 1098.7L563.4 1100.7L563.8 1102.7L564.1 1104.6L564.5 1106.6L564.9 1108.6L565.3 1110.5L565.7 1112.5L566.2 1114.5L566.6 1116.4L567.0 1118.4L567.5 1120.3L567.9 1122.3L568.4 1124.3L568.9 1126.2L569.4 1128.2L569.9 1130.1L570.4 1132.0L570.9 1134.0L571.5 1135.9L572.1 1137.8L572.7 1139.7L573.4 1141.6L574.0 1143.5L574.8 1145.4L575.5 1147.2L576.3 1149.1L577.1 1150.9L578.0 1152.7L578.9 1154.5L579.8 1156.3L580.8 1158.0L581.8 1159.7L582.9 1161.4L584.1 1163.1L585.3 1164.7L586.5 1166.3L587.8 1167.8L589.2 1169.3L590.6 1170.7L592.1 1172.1L593.6 1173.4L595.2 1174.6L596.8 1175.7L598.5 1176.8L600.2 1177.7L602.0 1178.6L603.8 1179.4L605.6 1180.2L607.5 1180.8L609.4 1181.4L611.3 1181.9L613.3 1182.3L615.2 1182.7L617.2 1183.0L619.2 1183.3L621.2 1183.5L623.3 1183.7L625.3 1183.9L627.3 1184.1L629.3 1184.2L631.4 1184.4L633.4 1184.5L635.4 1184.7L637.4 1184.8L639.4 1184.9L641.5 1185.0L643.5 1185.1L645.5 1185.2L647.5 1185.3L649.5 1185.4L651.5 1185.5L653.5 1185.6L655.5 1185.6L657.5 1185.7L659.5 1185.7L661.5 1185.8L663.5 1185.8L665.5 1185.9L667.5 1185.9L669.5 1185.9L671.5 1185.9L673.5 1185.9L675.5 1186.0L677.5 1186.0L679.5 1186.0L681.5 1185.9L683.5 1185.9L685.5 1185.9L687.5 1185.9L689.5 1185.9L691.4 1185.8L693.4 1185.8L695.4 1185.8L697.4 1185.7L699.4 1185.7L701.4 1185.6L703.4 1185.6L705.4 1185.5L707.3 1185.5L709.3 1185.4L711.3 1185.4L713.3 1185.3L715.3 1185.2L717.3 1185.2L719.3 1185.1L721.3 1185.0L723.2 1184.9L725.2 1184.9L727.2 1184.8L729.2 1184.7L731.2 1184.6L733.2 1184.6L735.2 1184.5L737.2 1184.4L739.2 1184.3L741.2 1184.2L743.2 1184.1L745.1 1184.1L747.1 1184.0L749.1 1183.9L751.1 1183.8L753.1 1183.7L755.1 1183.7L757.1 1183.6L759.1 1183.5L761.1 1183.4L763.1 1183.3L765.2 1183.3L767.2 1183.2L769.2 1183.1L771.2 1183.0L773.2 1183.0L775.2 1182.9L777.2 1182.8L779.2 1182.8L781.3 1182.7L783.3 1182.7L785.3 1182.6L787.3 1182.6L789.3 1182.5L791.4 1182.5L793.4 1182.4L795.4 1182.4L797.5 1182.3L799.5 1182.3L801.5 1182.2L803.5 1182.1L805.6 1182.1L807.6 1182.0L809.6 1181.9L811.6 1181.8L813.6 1181.6L815.6 1181.5L817.6 1181.3L819.6 1181.1L821.6 1180.9L823.5 1180.7L825.5 1180.4L827.5 1180.1L829.4 1179.8L831.3 1179.5L833.3 1179.1L835.2 1178.7L837.1 1178.2L839.0 1177.7L840.8 1177.2L842.7 1176.6L844.6 1176.0L846.4 1175.4L848.2 1174.7L850.0 1173.9L851.8 1173.1L853.6 1172.3L855.3 1171.5L857.1 1170.6L858.9 1169.6L860.6 1168.7L862.3 1167.7L864.1 1166.7L865.8 1165.6L867.5 1164.6L869.3 1163.5L871.0 1162.4L872.7 1161.3L874.5 1160.2L876.2 1159.0L878.0 1157.9L879.8 1156.7L881.5 1155.6L883.3 1154.5L885.1 1153.3L886.9 1152.2L888.6 1151.1L890.4 1150.1L892.3 1149.0L894.1 1148.1L895.9 1147.1L897.7 1146.2L899.5 1145.3L901.4 1144.5L903.2 1143.8L905.1 1143.1L906.9 1142.5L908.8 1142.0L910.6 1141.5L912.5 1141.2L914.4 1140.9L916.3 1140.7L918.2 1140.6L920.1 1140.7L922.0 1140.8L923.9 1141.0L925.8 1141.4L927.7 1141.8L929.6 1142.3L931.5 1142.9L933.4 1143.6L935.3 1144.3L937.1 1145.2L939.0 1146.0L940.8 1147.0L942.6 1147.9L944.4 1148.9L946.2 1150.0L947.9 1151.1L949.6 1152.2L951.3 1153.3L952.9 1154.4L954.5 1155.5L956.1 1156.7L957.7 1157.9L959.3 1159.0L960.9 1160.2L962.6 1161.3L964.2 1162.5L965.9 1163.6L967.5 1164.8L969.2 1165.9L970.9 1167.0L972.7 1168.1L974.4 1169.2L976.2 1170.2L977.9 1171.2L979.7 1172.2L981.5 1173.2L983.3 1174.0L985.2 1174.9L987.0 1175.7L988.8 1176.4L990.7 1177.1L992.6 1177.8L994.5 1178.4L996.4 1178.9L998.3 1179.3L1000.2 1179.7L1002.1 1179.9L1004.0 1180.2L1006.0 1180.3L1007.9 1180.3L1009.8 1180.3L1011.8 1180.1L1013.8 1179.9L1015.7 1179.7L1017.7 1179.3L1019.7 1178.9L1021.6 1178.5L1023.6 1178.0L1025.6 1177.5L1027.5 1176.9L1029.5 1176.3L1031.5 1175.7L1033.4 1175.1L1035.4 1174.5L1037.4 1173.8L1039.3 1173.2L1041.3 1172.6L1043.2 1171.9L1045.1 1171.3L1047.1 1170.8L1049.0 1170.2L1050.9 1169.7L1052.9 1169.2L1054.8 1168.7L1056.7 1168.3L1058.6 1167.9L1060.5 1167.6L1062.5 1167.3L1064.4 1167.1L1066.3 1167.0L1068.2 1166.9L1070.1 1166.9L1072.0 1167.0L1073.9 1167.2L1075.9 1167.4L1077.8 1167.8L1079.7 1168.2L1081.6 1168.8L1083.5 1169.4L1085.5 1170.1L1087.4 1170.9L1089.3 1171.7L1091.2 1172.6L1093.1 1173.4L1095.0 1174.3L1096.9 1175.2L1098.8 1176.1L1100.7 1176.9L1102.5 1177.7L1104.4 1178.6L1106.3 1179.3L1108.2 1180.1L1110.1 1180.8L1112.0 1181.4L1113.9 1182.0L1115.8 1182.6L1117.7 1183.1L1119.6 1183.5L1121.5 1183.9L1123.5 1184.3L1125.4 1184.6L1127.4 1184.9L1129.4 1185.1L1131.3 1185.3L1133.3 1185.5L1135.3 1185.7L1137.3 1185.8L1139.3 1186.0L1141.3 1186.1L1143.3 1186.2L1145.3 1186.3L1147.3 1186.4L1149.3 1186.4L1151.3 1186.5L1153.3 1186.5L1155.3 1186.6L1157.3 1186.6L1159.4 1186.6L1161.4 1186.6L1163.4 1186.6L1165.4 1186.5L1167.4 1186.5L1169.4 1186.4L1171.4 1186.3L1173.4 1186.2L1175.4 1186.1L1177.4 1185.9L1179.4 1185.7L1181.4 1185.6L1183.4 1185.4L1185.4 1185.1L1187.4 1184.9L1189.3 1184.6L1191.3 1184.3L1193.3 1184.0L1195.2 1183.7L1197.2 1183.3L1199.1 1183.0L1201.1 1182.6L1203.0 1182.2L1205.0 1181.8L1206.9 1181.3L1208.9 1180.9L1210.8 1180.4L1212.8 1180.0L1214.7 1179.5L1216.7 1179.1L1218.6 1178.6L1220.6 1178.1L1222.6 1177.6L1224.5 1177.2L1226.5 1176.7L1228.4 1176.2L1230.4 1175.8L1232.4 1175.4L1234.4 1175.0L1236.3 1174.6L1238.3 1174.3L1240.3 1173.9L1242.3 1173.7L1244.2 1173.4L1246.2 1173.2L1248.2 1173.0L1250.2 1172.9L1252.1 1172.8L1254.1 1172.8L1256.1 1172.8L1258.1 1172.9L1260.0 1173.0L1262.0 1173.1L1264.0 1173.3L1266.0 1173.5L1267.9 1173.8L1269.9 1174.1L1271.9 1174.4L1273.8 1174.8L1275.8 1175.1L1277.8 1175.5L1279.8 1175.9L1281.7 1176.3L1283.7 1176.8L1285.7 1177.2L1287.7 1177.7L1289.6 1178.1L1291.6 1178.5L1293.6 1179.0L1295.5 1179.4L1297.5 1179.9L1299.5 1180.3L1301.5 1180.7L1303.4 1181.1L1305.4 1181.5L1307.4 1181.8L1309.3 1182.2L1311.3 1182.5L1313.3 1182.8L1315.3 1183.1L1317.2 1183.4L1319.2 1183.7L1321.2 1183.9L1323.2 1184.2L1325.1 1184.4L1327.1 1184.6L1329.1 1184.8L1331.1 1185.0L1333.1 1185.1L1335.0 1185.3L1337.0 1185.4L1339.0 1185.6L1341.0 1185.7L1343.0 1185.8L1345.0 1185.9L1347.0 1186.0L1349.0 1186.0L1351.0 1186.1L1353.0 1186.2L1355.0 1186.2L1357.0 1186.2L1359.0 1186.3L1361.0 1186.3L1363.0 1186.3L1365.0 1186.3L1367.0 1186.3L1369.0 1186.3L1371.0 1186.3L1373.0 1186.3L1375.0 1186.3L1377.0 1186.2L1379.1 1186.2L1381.1 1186.2L1383.1 1186.2L1385.1 1186.1L1387.1 1186.1L1389.1 1186.1L1391.1 1186.1L1393.1 1186.0L1395.1 1186.0L1397.1 1186.0L1399.1 1186.0L1401.1 1186.0L1403.1 1186.0L1405.1 1185.9L1407.1 1185.9L1409.1 1185.9L1411.1 1186.0L1413.1 1186.0L1415.1 1186.0L1417.1 1186.0L1419.1 1186.0L1421.1 1186.1L1423.1 1186.1L1425.1 1186.1L1427.1 1186.0L1429.1 1186.0L1431.1 1185.9L1433.1 1185.8L1435.0 1185.6L1437.0 1185.4L1439.0 1185.2L1441.0 1184.9L1442.9 1184.6L1444.9 1184.2L1446.9 1183.9L1448.8 1183.4L1450.8 1183.0L1452.8 1182.5L1454.7 1182.0L1456.7 1181.5L1458.6 1181.0L1460.6 1180.5L1462.5 1179.9L1464.5 1179.4L1466.4 1178.9L1468.4 1178.3L1470.3 1177.8L1472.3 1177.3L1474.3 1176.8L1476.2 1176.4L1478.2 1175.9L1480.1 1175.5L1482.1 1175.1L1484.0 1174.8L1486.0 1174.5L1487.9 1174.2L1489.9 1174.0L1491.8 1173.8L1493.8 1173.7L1495.7 1173.6L1497.7 1173.6L1499.6 1173.7L1501.6 1173.8L1503.5 1174.0L1505.5 1174.3L1507.5 1174.6L1509.4 1175.0L1511.4 1175.5L1513.3 1176.0L1515.3 1176.5L1517.3 1177.1L1519.2 1177.7L1521.2 1178.3L1523.2 1178.8L1525.1 1179.4L1527.1 1180.0L1529.1 1180.5L1531.0 1181.0L1533.0 1181.4L1535.0 1181.8L1536.9 1182.1L1538.9 1182.4L1540.9 1182.6L1542.8 1182.9L1544.8 1183.1L1546.8 1183.2L1548.7 1183.4L1550.7 1183.6L1552.7 1183.7L1554.7 1183.9L1556.7 1184.0L1558.7 1184.2L1560.7 1184.3L1562.7 1184.4L1564.6 1184.6L1566.6 1184.7L1568.6 1184.8L1570.6 1184.9L1572.6 1185.0L1574.6 1185.1L1576.6 1185.2L1578.7 1185.3L1580.7 1185.4L1582.7 1185.5L1584.7 1185.6L1586.7 1185.7L1588.7 1185.8L1590.7 1185.8L1592.7 1185.9L1594.7 1186.0L1596.7 1186.1L1598.7 1186.2L1600.7 1186.2L1602.7 1186.3L1604.7 1186.4L1606.7 1186.4L1608.7 1186.5L1610.7 1186.6L1612.7 1186.6L1614.7 1186.7L1616.7 1186.8L1618.7 1186.8L1620.7 1186.9L1622.7 1186.9L1624.7 1187.0L1626.7 1187.0L1628.7 1187.1L1630.7 1187.1L1632.7 1187.2L1634.7 1187.2L1636.7 1187.3L1638.7 1187.3L1640.7 1187.4L1642.7 1187.4L1644.7 1187.4L1646.7 1187.5L1648.7 1187.5L1650.7 1187.5L1652.7 1187.6L1654.7 1187.6L1656.7 1187.6L1658.7 1187.7L1660.7 1187.7L1662.7 1187.7L1664.7 1187.7L1666.7 1187.7L1668.7 1187.8L1670.7 1187.8L1672.7 1187.8L1674.7 1187.8L1676.7 1187.8L1678.7 1187.8L1680.7 1187.9L1682.7 1187.9L1684.7 1187.9L1686.7 1187.9L1688.7 1187.9L1690.7 1187.9L1692.7 1187.9L1694.7 1187.9L1696.7 1187.9L1698.7 1187.9L1700.7 1187.9L1702.7 1187.9L1704.7 1187.9L1706.7 1187.9L1708.7 1187.9L1710.7 1187.9L1712.7 1187.9L1714.7 1187.9L1716.7 1187.9L1718.7 1187.8L1720.7 1187.8L1722.7 1187.8L1724.7 1187.8L1726.7 1187.8L1728.7 1187.8L1730.7 1187.8L1732.7 1187.7L1734.7 1187.7L1736.7 1187.7L1738.7 1187.7L1740.7 1187.7L1742.7 1187.6L1744.7 1187.6L1746.7 1187.6L1748.7 1187.6L1750.7 1187.5L1752.7 1187.5L1754.7 1187.5L1756.7 1187.5L1758.7 1187.4L1760.7 1187.4L1762.7 1187.4L1764.7 1187.3L1766.7 1187.3L1768.7 1187.3L1770.7 1187.2L1772.7 1187.2L1774.7 1187.2L1776.7 1187.1L1778.7 1187.1L1780.7 1187.1L1782.7 1187.0L1784.7 1187.0L1786.7 1187.0L1788.7 1186.9L1790.7 1186.9L1792.7 1186.8L1794.7 1186.8L1796.7 1186.8L1798.7 1186.7L1800.7 1186.7L1802.7 1186.6L1804.7 1186.6L1806.7 1186.6L1808.7 1186.5L1810.7 1186.5L1812.7 1186.4L1814.7 1186.4L1816.7 1186.3L1818.7 1186.3L1820.7 1186.2L1822.7 1186.2L1824.7 1186.1L1826.7 1186.1"/>
<path stroke="#ff0000" stroke-width="8.7" d="M193.3 1143.6C196.4 1143.4 205.2 1141.8 211.9 1142.2C218.7 1142.6 227.7 1145.5 233.8 1145.8C239.9 1146.1 242.6 1145.1 248.4 1144.3C254.2 1143.5 263.0 1140.6 268.8 1140.7C274.6 1140.8 279.0 1144.7 283.4 1145.1C287.8 1145.5 290.0 1142.7 295.1 1142.9C300.2 1143.1 307.3 1145.8 314.1 1146.5C320.9 1147.2 330.8 1146.4 335.9 1147.3C341.0 1148.2 341.6 1150.8 344.5 1152.0C347.4 1153.2 350.3 1155.0 353.2 1154.3C356.1 1153.6 359.1 1149.6 362.0 1147.6C364.9 1145.6 367.8 1143.4 370.7 1142.2C373.6 1141.0 376.6 1140.2 379.5 1140.3C382.4 1140.4 384.4 1142.9 388.3 1142.9C392.2 1142.9 397.8 1140.8 402.6 1140.2C407.4 1139.6 412.5 1139.9 417.3 1139.3C422.1 1138.7 426.6 1137.9 431.4 1136.7C436.2 1135.5 441.9 1133.8 446.0 1132.3C450.1 1130.8 452.1 1129.9 456.0 1127.5C459.9 1125.1 464.6 1121.8 469.2 1118.0C473.8 1114.2 478.9 1109.2 483.8 1105.0C488.7 1100.8 493.5 1096.8 498.4 1092.8C503.3 1088.8 508.1 1084.5 513.0 1081.1C517.9 1077.7 523.2 1075.6 527.6 1072.4C532.0 1069.2 535.8 1065.9 539.2 1062.2C542.6 1058.5 545.3 1054.9 548.0 1050.5C550.7 1046.1 553.1 1041.2 555.3 1035.9C557.5 1030.6 559.4 1024.5 561.1 1018.4C562.8 1012.3 564.1 1006.0 565.5 999.4C566.9 992.8 568.0 985.6 569.2 979.0C570.4 972.4 571.1 966.5 572.5 960.0C573.9 953.5 575.7 948.5 577.5 939.8C579.3 931.1 581.6 917.8 583.5 908.0C585.4 898.2 587.4 888.4 588.9 881.1C590.4 873.8 591.0 869.3 592.3 864.0C593.6 858.7 595.6 852.9 596.7 849.3C597.8 845.7 598.5 843.5 598.9 842.3C600.6 842.3 607.5 842.3 609.2 842.3C609.6 843.5 610.3 845.7 611.4 849.3C612.5 852.9 613.9 856.6 615.8 864.0C617.7 871.4 620.9 886.2 622.6 893.5C624.3 900.8 624.5 900.8 626.0 908.0C627.5 915.2 630.1 928.3 631.5 937.0C632.9 945.7 633.2 951.3 634.5 960.0C635.8 968.7 637.8 979.5 639.5 989.2C641.2 998.9 642.8 1008.7 644.6 1018.4C646.4 1028.1 648.2 1037.9 650.2 1047.6C652.2 1057.3 654.3 1067.1 656.7 1076.8C659.1 1086.5 661.8 1097.5 664.8 1106.0C667.8 1114.5 671.1 1121.5 675.0 1127.8C678.9 1134.1 683.9 1140.2 688.1 1143.9C692.3 1147.7 695.5 1148.2 700.0 1150.3C704.5 1152.4 708.9 1154.9 715.1 1156.8C721.3 1158.7 729.7 1160.6 737.0 1161.9C744.3 1163.2 750.4 1164.0 758.9 1164.8C767.4 1165.6 779.6 1166.4 788.1 1167.0C796.6 1167.6 802.7 1167.8 810.0 1168.3C817.3 1168.8 824.6 1169.3 831.9 1169.9C839.2 1170.5 846.5 1171.8 853.8 1172.1C861.1 1172.3 868.4 1172.0 875.7 1171.4C883.0 1170.8 890.8 1169.4 897.6 1168.4C904.4 1167.4 910.4 1165.7 916.5 1165.5C922.6 1165.3 927.5 1166.5 934.1 1167.0C940.7 1167.5 948.6 1167.8 955.9 1168.4C963.2 1169.0 970.5 1170.0 977.8 1170.6C985.1 1171.2 991.2 1171.7 999.7 1172.1C1008.2 1172.5 1019.2 1172.7 1028.9 1172.8C1038.6 1172.9 1049.6 1172.7 1058.1 1172.8C1066.6 1172.9 1071.5 1173.3 1080.0 1173.5C1088.5 1173.7 1099.5 1173.8 1109.2 1174.1C1118.9 1174.4 1128.7 1174.8 1138.4 1175.2C1148.1 1175.6 1157.9 1175.9 1167.6 1176.2C1177.3 1176.5 1189.5 1176.6 1196.8 1177.1C1204.1 1177.6 1206.4 1179.5 1211.3 1179.3C1216.2 1179.1 1218.7 1176.6 1226.0 1175.9C1233.3 1175.2 1242.9 1175.2 1255.1 1175.2C1267.2 1175.2 1283.1 1175.5 1298.9 1175.6C1314.7 1175.7 1334.8 1175.9 1350.0 1175.9C1365.2 1176.0 1379.0 1175.9 1390.0 1175.9C1401.0 1175.9 1407.8 1176.8 1415.7 1175.9C1423.6 1175.0 1431.5 1172.1 1437.6 1170.5C1443.6 1168.9 1447.1 1167.9 1452.0 1166.5C1456.9 1165.1 1461.9 1163.3 1466.8 1162.0C1471.7 1160.7 1476.4 1160.0 1481.3 1158.4C1486.2 1156.8 1491.1 1154.3 1496.0 1152.5C1500.9 1150.7 1505.7 1148.6 1510.5 1147.4C1515.3 1146.2 1517.8 1145.7 1525.1 1145.2C1532.4 1144.7 1547.0 1144.5 1554.3 1144.5C1561.6 1144.5 1564.0 1144.5 1568.9 1145.2C1573.8 1145.9 1578.2 1147.2 1583.5 1148.6C1588.8 1150.0 1596.1 1152.2 1601.0 1153.8C1605.9 1155.4 1608.9 1156.8 1612.7 1158.2C1616.5 1159.6 1618.3 1160.2 1623.8 1162.0C1629.3 1163.8 1638.4 1166.7 1645.7 1169.3C1653.0 1171.9 1660.3 1175.2 1667.6 1177.4C1674.9 1179.6 1682.2 1181.2 1689.5 1182.5C1696.8 1183.8 1704.1 1184.6 1711.4 1185.4C1718.7 1186.2 1725.9 1186.8 1733.2 1187.6C1740.5 1188.4 1746.6 1189.7 1755.1 1190.5C1763.6 1191.3 1772.4 1192.0 1784.3 1192.7C1796.2 1193.4 1819.6 1194.5 1826.7 1194.9"/>
<line x1="1182.3" y1="213.4" x2="1298.2" y2="213.4" stroke="#ff0000" stroke-width="7.7"/>
<line x1="1182.3" y1="272.6" x2="1298.2" y2="272.6" stroke="#000000" stroke-width="7.7"/>
</g>
<text class="b k" font-size="46.8" transform="matrix(0.9470 0 0 1.0000 1215.04 170.78)">TPP</text>
<text class="t" font-size="50.5" transform="matrix(0.9450 0 0 1.0000 1307.32 231.25)">Film</text>
<text class="t" font-size="50.5" transform="matrix(0.9450 0 0 1.0000 1307.69 290.50)">Solution</text>
<text class="b k" font-size="57.5" transform="matrix(0.9300 0 0 1.0000 394.44 80.30)">414</text>
<text class="b r" font-size="57.5" transform="matrix(0.9300 0 0 1.0000 562.98 816.05)">435</text>
<text class="b k" font-size="57.5" transform="matrix(0.9300 0 0 1.0000 874.21 1114.95)">512</text>
<text class="b r" font-size="57.5" transform="matrix(0.9300 0 0 1.0000 1496.04 1120.55)">660</text>
<text class="b k" font-size="41.5" transform="matrix(0.9350 0 0 1.0000 889.54 60.45)">650</text>
<text class="b r" font-size="41.5" transform="matrix(0.9350 0 0 1.0000 1119.24 568.95)">690</text>
<text class="b k" font-size="41.5" transform="matrix(0.9350 0 0 1.0000 1268.59 511.25)">715</text>
</svg>
</body></html>
